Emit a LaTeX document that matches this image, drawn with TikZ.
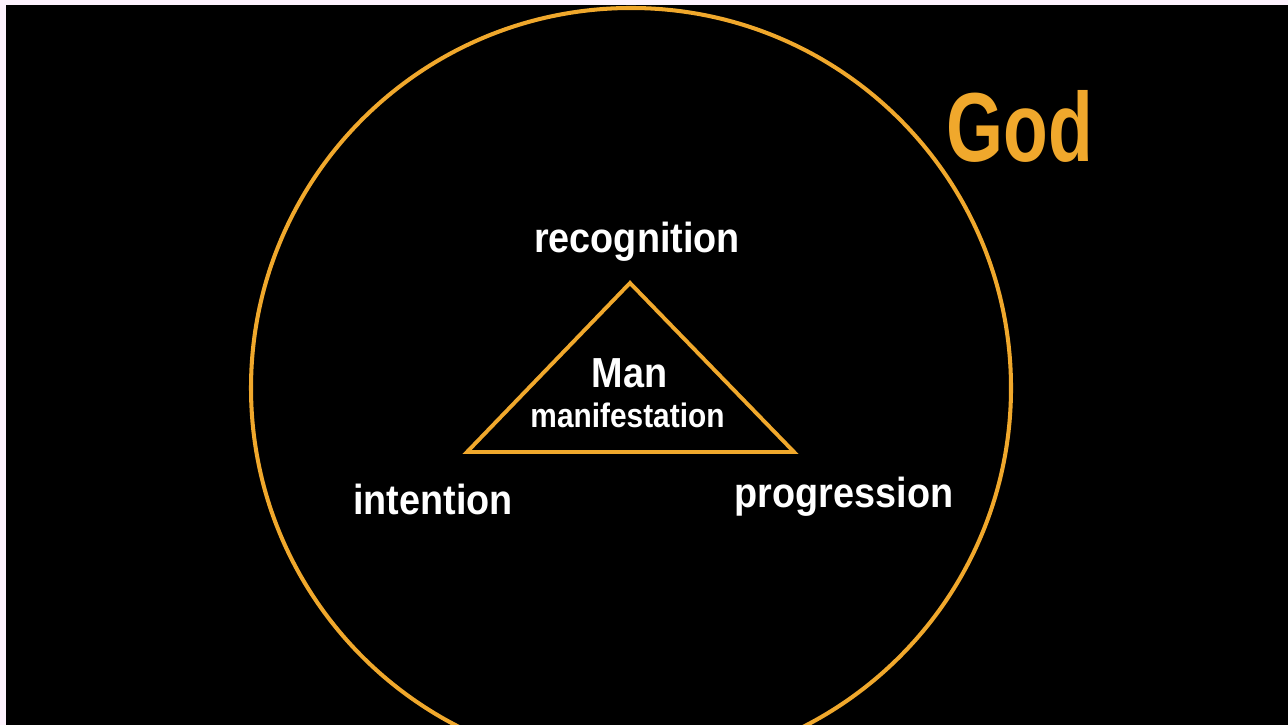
\documentclass[tikz,border=0pt]{standalone}
\usepackage{fontspec}
\setmainfont{Liberation Sans}
\usepackage{xcolor}
\usetikzlibrary{calc}
\definecolor{emasilahi}{RGB}{240, 168, 44}
\definecolor{latarmuda}{RGB}{253, 242, 253}

\begin{document}
\begin{tikzpicture}[
    teks/.style={white, anchor=base, inner sep=0pt, xscale=0.9,
                 font=\fontsize{23.9pt}{28pt}\selectfont\bfseries},
    tekskecil/.style={white, anchor=base, inner sep=0pt, xscale=0.88,
                 font=\fontsize{19.3pt}{23pt}\selectfont\bfseries},
    garis/.style={draw=emasilahi, line width=2.3pt}
  ]
    % Ukuran gambar 1288 x 725 piksel, satu piksel = 0,02 cm.
    \useasboundingbox (0,0) rectangle (25.76,14.5);
    \fill[latarmuda] (0,0) rectangle (25.76,14.5);
    \fill[black] (0.12,0) rectangle (25.76,14.4);
    \clip (0.12,0) rectangle (25.76,14.4);
    \coordinate (pusat) at (12.62,6.74);
    \draw[garis] (pusat) circle (7.6);
    \node[teks, emasilahi, xscale=0.83, font=\fontsize{55.8pt}{60pt}\selectfont\bfseries]
      (tuhan) at (20.4,11.26) {God};
    \coordinate (puncak) at (12.6,8.84);
    \coordinate (kiri) at (9.34,5.46);
    \coordinate (kanan) at (15.88,5.46);
    \draw[garis, line width=2.2pt, line join=miter] (puncak) -- (kanan) -- (kiri) -- cycle;
    \node[teks] (kenal) at (12.74,9.44) {recognition};
    \node[teks] (manusia) at (12.59,6.74) {Man};
    \node[tekskecil] (wujud) at (12.55,5.94) {manifestation};
    \node[teks] (niat) at (8.66,4.2) {intention};
    \node[teks] (maju) at (16.88,4.34) {progression};
  \end{tikzpicture}
\end{document}
